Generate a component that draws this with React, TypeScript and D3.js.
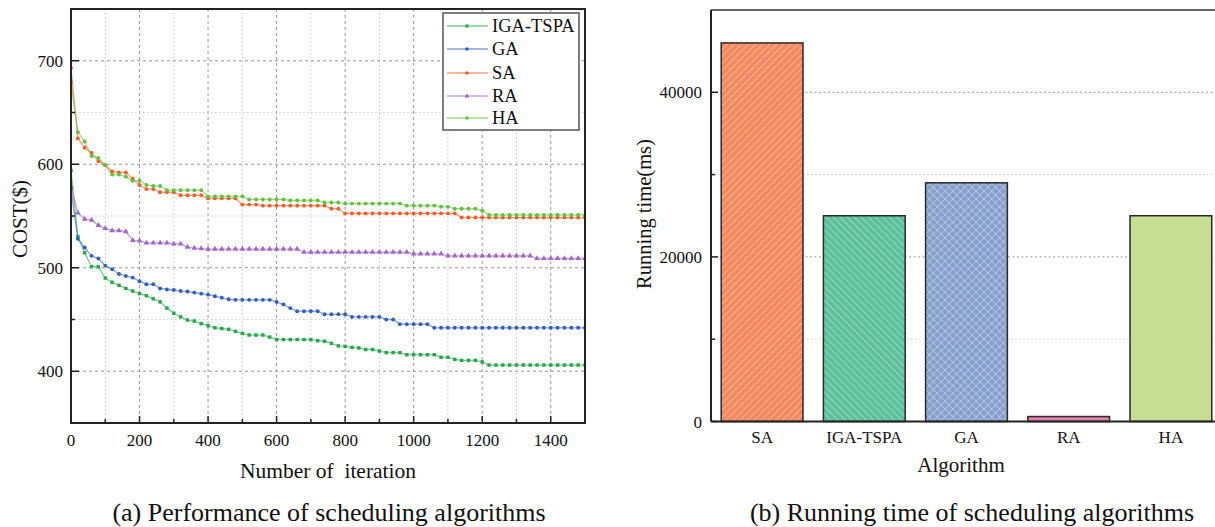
import React from 'react';
import * as d3 from 'd3';

// ---------- Data: left chart ----------
const iterations = d3.range(0, 1501, 20);

const igaTspa = [
  594, 530, 514.5, 501, 501, 490, 486, 483, 480, 477.5,
  475, 473, 470, 467, 461, 456, 452.5, 449.5, 448.5, 446,
  444, 442, 441.3, 440.5, 438.5, 436.5, 435, 435, 435, 433,
  430.6, 430.6, 430.6, 430.6, 430.6, 430.6, 429.5, 429, 427, 424.5,
  424, 423, 422.5, 421, 421, 419.5, 418, 418, 418, 416,
  416, 416, 416, 416, 413.5, 413.5, 411.5, 410.5, 410.5, 410.5,
  409, 406, 406, 406, 406, 406, 406, 406, 406, 406,
  406, 406, 406, 406, 406, 406,
];

const ga = [
  576, 528, 519.5, 511.5, 509, 502, 498.5, 494, 492, 490.5,
  487, 484, 484, 480, 479, 478.5, 477.5, 477, 476, 475,
  474, 472.5, 471, 469.5, 469, 469, 469, 469, 469, 469,
  467, 464.5, 461, 458, 458, 458, 458, 455, 455, 455,
  455, 452.5, 452.5, 452.5, 452.5, 452.5, 450, 450, 445.5, 445.5,
  445.5, 445.5, 445.5, 442, 442, 442, 442, 442, 442, 442,
  442, 442, 442, 442, 442, 442, 442, 442, 442, 442,
  442, 442, 442, 442, 442, 442,
];

const sa = [
  693, 625, 616, 611, 603, 599, 593, 592, 592, 586,
  580, 576, 576, 573, 573, 573, 570, 570, 570, 570,
  567, 567, 567, 567, 567, 561, 561, 561, 560, 560,
  560, 560, 560, 560, 560, 560, 560, 560, 557, 557,
  552.5, 552.5, 552.5, 552.5, 552.5, 552.5, 552.5, 552.5, 552.5, 552.5,
  552.5, 552.5, 552.5, 552.5, 552.5, 552.5, 552.5, 548.5, 548.5, 548.5,
  548.5, 548.5, 548.5, 548.5, 548.5, 548.5, 548.5, 548.5, 548.5, 548.5,
  548.5, 548.5, 548.5, 548.5, 548.5, 548.5,
];

const ra = [
  579, 553, 547, 546, 541, 538, 536, 536, 535, 526.5,
  526, 524, 524, 524, 524, 523, 523, 520, 519, 518.5,
  518, 518, 518, 518, 518, 518, 518, 518, 518, 518,
  518, 518, 518, 518, 515, 515, 515, 515, 515, 515,
  515, 515, 515, 515, 515, 515, 515, 515, 515, 515,
  513.5, 513.5, 513.5, 513.5, 513.5, 511.5, 511.5, 511.5, 511.5, 511.5,
  511.5, 511.5, 511.5, 511.5, 511.5, 511.5, 511.5, 511.5, 509, 509,
  509, 509, 509, 509, 509, 509,
];

const ha = [
  679, 631, 622, 608, 606, 599, 590, 590, 588, 584,
  584, 580, 579, 579, 575, 575, 575, 575, 575, 575,
  569, 569, 569, 569, 569, 569, 566, 566, 566, 566,
  566, 566, 565, 565, 565, 565, 565, 563, 563, 563,
  562, 562, 562, 562, 562, 562, 562, 562, 562, 560,
  560, 560, 560, 560, 559, 559, 557, 557, 557, 557,
  555, 551, 551, 551, 551, 551, 551, 551, 551, 551,
  551, 551, 551, 551, 551, 551,
];

const seriesNames = ['IGA-TSPA', 'GA', 'SA', 'RA', 'HA'];
const seriesValues = [igaTspa, ga, sa, ra, ha];
const seriesColors = ['#25a84a', '#2f5fc4', '#ff5a1f', '#a366c8', '#62c13e'];
const seriesSymbols = [d3.symbolSquare, d3.symbolCircle, d3.symbolCircle, d3.symbolTriangle, d3.symbolCircle];

const xMajorTicks = [0, 200, 400, 600, 800, 1000, 1200, 1400];
const xMinorTicks = [100, 300, 500, 700, 900, 1100, 1300];
const yMajorTicks = [400, 500, 600, 700];
const yMinorTicks = [450, 550, 650];

// ---------- Data: right chart ----------
const algorithms = ['SA', 'IGA-TSPA', 'GA', 'RA', 'HA'];
const runningTimes = [46000, 25000, 29000, 600, 25000];
const barColors = ['#f4895f', '#5cc09d', '#869fcd', '#e87db0', '#c6de91'];
const barPatterns = ['hatchR', 'hatchL', 'cross', '', ''];
const timeMajorTicks = [0, 20000, 40000];
const timeMinorTicks = [10000, 30000];

const FONT = '"Liberation Serif", "Times New Roman", serif';

export default function App() {
  // left chart geometry
  const L = { left: 71, right: 585, top: 9, bottom: 423 };
  const x = d3.scaleLinear().domain([0, 1500]).range([L.left, L.right]);
  const y = d3.scaleLinear().domain([350, 750]).range([L.bottom, L.top]);

  // right chart geometry
  const R = { left: 711, right: 1222, top: 10, bottom: 421.5 };
  const xb = d3.scaleBand().domain(algorithms).range([R.left, R.right]).paddingInner(0.2).paddingOuter(0.1);
  const yb = d3.scaleLinear().domain([0, 50000]).range([R.bottom, R.top]);

  const line = d3.line<number>().x((_, i) => x(iterations[i])).y((d) => y(d));

  const legendX = 443;
  const legendY = 13;
  const legendRows = [26, 49, 73, 96, 118];

  return (
    <svg width={1215} height={527} style={{ position: 'absolute', left: 0, top: 0, background: '#fff' }} fontFamily={FONT}>
      <defs>
        <pattern id="hatchR" patternUnits="userSpaceOnUse" width={5} height={5} patternTransform="rotate(45)">
          <line x1={0} y1={0} x2={0} y2={5} stroke="#fff" strokeWidth={0.9} strokeOpacity={0.8} />
        </pattern>
        <pattern id="hatchL" patternUnits="userSpaceOnUse" width={5} height={5} patternTransform="rotate(-45)">
          <line x1={0} y1={0} x2={0} y2={5} stroke="#fff" strokeWidth={0.9} strokeOpacity={0.8} />
        </pattern>
        <pattern id="cross" patternUnits="userSpaceOnUse" width={5.5} height={5.5} patternTransform="rotate(45)">
          <line x1={0} y1={0} x2={0} y2={5.5} stroke="#fff" strokeWidth={0.9} strokeOpacity={0.75} />
          <line x1={0} y1={0} x2={5.5} y2={0} stroke="#fff" strokeWidth={0.9} strokeOpacity={0.75} />
        </pattern>
        <clipPath id="leftClip">
          <rect x={L.left} y={L.top} width={L.right - L.left} height={L.bottom - L.top} />
        </clipPath>
      </defs>

      {/* ---------- LEFT CHART ---------- */}
      {xMinorTicks.map((t) => (
        <line key={'xm' + t} x1={x(t)} x2={x(t)} y1={L.top} y2={L.bottom} stroke="#c8c8c8" strokeWidth={1} strokeDasharray="1.5,2.5" />
      ))}
      {xMajorTicks.filter((t) => t > 0).map((t) => (
        <line key={'xM' + t} x1={x(t)} x2={x(t)} y1={L.top} y2={L.bottom} stroke="#9a9a9a" strokeWidth={1} strokeDasharray="3,3" />
      ))}
      {yMinorTicks.map((t) => (
        <line key={'ym' + t} x1={L.left} x2={L.right} y1={y(t)} y2={y(t)} stroke="#c8c8c8" strokeWidth={1} strokeDasharray="1.5,2.5" />
      ))}
      {yMajorTicks.map((t) => (
        <line key={'yM' + t} x1={L.left} x2={L.right} y1={y(t)} y2={y(t)} stroke="#9a9a9a" strokeWidth={1} strokeDasharray="3,3" />
      ))}

      <g clipPath="url(#leftClip)">
        {seriesValues.map((vals, si) => (
          <g key={seriesNames[si]}>
            <path d={line(vals) || ''} fill="none" stroke={seriesColors[si]} strokeOpacity={0.6} strokeWidth={1.3} />
            {vals.map((v, i) => (
              <path
                key={i}
                d={d3.symbol().type(seriesSymbols[si]).size(si === 3 ? 14 : 12)() || ''}
                transform={`translate(${x(iterations[i])},${y(v)})`}
                fill={seriesColors[si]}
              />
            ))}
          </g>
        ))}
      </g>

      <rect x={L.left} y={L.top} width={L.right - L.left} height={L.bottom - L.top} fill="none" stroke="#222" strokeWidth={2} />

      {xMajorTicks.map((t) => (
        <line key={'xt' + t} x1={x(t)} x2={x(t)} y1={L.bottom} y2={L.bottom - 7} stroke="#222" strokeWidth={1.5} />
      ))}
      {xMinorTicks.map((t) => (
        <line key={'xtm' + t} x1={x(t)} x2={x(t)} y1={L.bottom} y2={L.bottom - 4} stroke="#222" strokeWidth={1.5} />
      ))}
      {yMajorTicks.map((t) => (
        <line key={'yt' + t} x1={L.left} x2={L.left + 8} y1={y(t)} y2={y(t)} stroke="#222" strokeWidth={1.5} />
      ))}
      {yMinorTicks.map((t) => (
        <line key={'ytm' + t} x1={L.left} x2={L.left + 4} y1={y(t)} y2={y(t)} stroke="#222" strokeWidth={1.5} />
      ))}

      {xMajorTicks.map((t) => (
        <text key={'xl' + t} x={x(t)} y={446} textAnchor="middle" fontSize={17} fill="#111">{t}</text>
      ))}
      {yMajorTicks.map((t) => (
        <text key={'yl' + t} x={63} y={y(t) + 6} textAnchor="end" fontSize={17} fill="#111">{t}</text>
      ))}

      <text x={328} y={478} textAnchor="middle" fontSize={21.5} fill="#111" style={{ whiteSpace: 'pre' }}>{'Number of  iteration'}</text>
      <text transform="translate(27,219) rotate(-90)" textAnchor="middle" fontSize={21} fill="#111">COST($)</text>

      <rect x={legendX} y={legendY} width={136} height={117} fill="#fff" stroke="#555" strokeWidth={1.5} />
      {seriesNames.map((n, si) => (
        <g key={'lg' + n}>
          <line x1={447} x2={488} y1={legendRows[si]} y2={legendRows[si]} stroke={seriesColors[si]} strokeOpacity={0.6} strokeWidth={1.5} />
          <path d={d3.symbol().type(seriesSymbols[si]).size(10)() || ''} transform={`translate(467,${legendRows[si]})`} fill={seriesColors[si]} />
          <text x={492} y={legendRows[si] + 6} fontSize={18.5} fill="#111">{n}</text>
        </g>
      ))}

      <text x={329} y={521} textAnchor="middle" fontSize={26} fill="#111">(a) Performance of scheduling algorithms</text>

      {/* ---------- RIGHT CHART ---------- */}
      {timeMinorTicks.map((t) => (
        <line key={'tgm' + t} x1={R.left} x2={R.right} y1={yb(t)} y2={yb(t)} stroke="#d0d0d0" strokeWidth={1} strokeDasharray="1.5,2.5" />
      ))}
      {timeMajorTicks.filter((t) => t > 0).map((t) => (
        <line key={'tgM' + t} x1={R.left} x2={R.right} y1={yb(t)} y2={yb(t)} stroke="#9a9a9a" strokeWidth={1} strokeDasharray="2,2.5" />
      ))}

      {algorithms.map((a, i) => {
        const bx = xb(a) as number;
        const by = yb(runningTimes[i]);
        const bw = xb.bandwidth();
        const bh = R.bottom - by;
        return (
          <g key={'bar' + a}>
            <rect x={bx} y={by} width={bw} height={bh} fill={barColors[i]} />
            {barPatterns[i] && <rect x={bx} y={by} width={bw} height={bh} fill={`url(#${barPatterns[i]})`} />}
            <rect x={bx} y={by} width={bw} height={bh} fill="none" stroke="#2a2a2a" strokeWidth={1.5} />
          </g>
        );
      })}

      <line x1={R.left} x2={R.left} y1={R.top} y2={R.bottom} stroke="#222" strokeWidth={2} />
      <line x1={R.left} x2={1215} y1={R.bottom} y2={R.bottom} stroke="#222" strokeWidth={2} />
      <line x1={R.left} x2={1215} y1={R.top} y2={R.top} stroke="#333" strokeWidth={1.5} />

      {timeMajorTicks.map((t) => (
        <line key={'tt' + t} x1={R.left} x2={R.left + 7} y1={yb(t)} y2={yb(t)} stroke="#222" strokeWidth={1.5} />
      ))}
      {timeMinorTicks.map((t) => (
        <line key={'ttm' + t} x1={R.left} x2={R.left + 4} y1={yb(t)} y2={yb(t)} stroke="#222" strokeWidth={1.5} />
      ))}
      {timeMajorTicks.map((t) => (
        <text key={'tl' + t} x={702} y={yb(t) + 6} textAnchor="end" fontSize={17} fill="#111">{t}</text>
      ))}
      {algorithms.map((a) => (
        <text key={'al' + a} x={(xb(a) as number) + xb.bandwidth() / 2} y={443} textAnchor="middle" fontSize={17} fill="#111">{a}</text>
      ))}

      <text x={961} y={472} textAnchor="middle" fontSize={21} fill="#111">Algorithm</text>
      <text transform="translate(651,214) rotate(-90)" textAnchor="middle" fontSize={20.5} fill="#111">Running time(ms)</text>

      <text x={972} y={521} textAnchor="middle" fontSize={26} fill="#111">(b) Running time of scheduling algorithms</text>
    </svg>
  );
}
